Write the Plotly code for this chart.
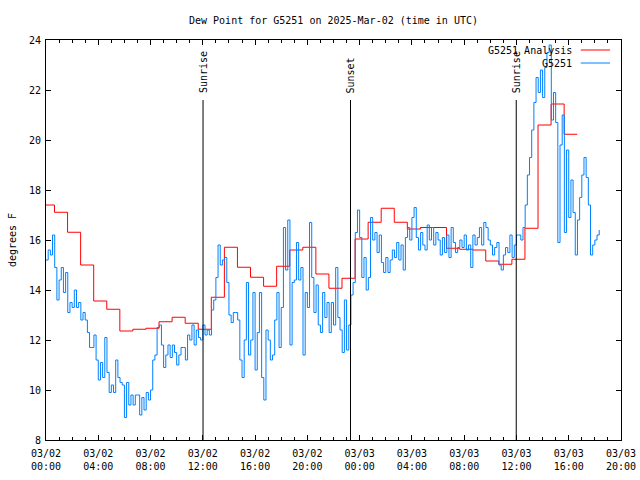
import pandas as pd
import plotly.graph_objects as go

title_text = "Dew Point for G5251 on 2025-Mar-02 (time in UTC)"
y_label = "degrees F"
start = "2025-03-02 00:00"
x_end = "2025-03-03 20:00"
obs_name = "G5251"
ana_name = "G5251 Analysis"

# G5251 observed dew point (F), one value every 10 minutes from start
obs_values = [
    15.2, 15.6, 15.4, 16.2, 14.9, 13.6,
    14.4, 14.9, 13.9, 14.7, 13.1, 13.5,
    13.3, 14.0, 13.3, 13.5, 12.8, 13.1,
    12.8, 12.3, 11.7, 11.7, 12.2, 11.2,
    10.4, 11.1, 10.5, 12.1, 10.7, 9.9,
    10.2, 9.9, 11.2, 10.5, 10.3, 10.2,
    8.9, 10.3, 9.4, 9.8, 9.4, 9.8,
    9.8, 9.0, 9.7, 9.2, 9.9, 9.6,
    10.0, 11.2, 11.4, 12.5, 12.6, 11.8,
    10.9, 11.4, 11.8, 11.3, 11.8, 11.5,
    11.0, 11.4, 11.7, 11.7, 11.2, 12.2,
    12.0, 12.6, 11.8, 12.4, 12.1, 12.0,
    12.6, 12.2, 12.4, 12.2, 13.2, 13.6,
    14.5, 15.8, 15.0, 15.2, 15.3, 14.3,
    13.0, 12.7, 13.1, 13.1, 12.8, 11.2,
    10.5, 12.0, 14.3, 11.4, 12.0, 13.9,
    10.8, 12.3, 13.9, 10.5, 9.6, 12.4,
    12.0, 11.2, 11.4, 12.8, 13.9, 11.7,
    13.3, 16.5, 14.8, 16.8, 11.8, 14.3,
    14.4, 15.9, 14.4, 14.9, 11.4, 13.9,
    13.3, 16.7, 14.5, 13.1, 14.2, 12.6,
    12.3, 13.9, 12.9, 13.5, 12.3, 13.5,
    12.6, 14.9, 12.9, 12.4, 11.5, 13.6,
    11.6, 12.6, 13.8, 14.3, 16.3, 17.2,
    16.1, 14.5, 15.3, 14.0, 14.5, 16.9,
    16.0, 16.3, 15.5, 16.2, 15.1, 14.7,
    15.3, 14.7, 15.2, 15.6, 15.3, 15.9,
    15.2, 15.8, 14.8, 16.1, 16.5, 16.0,
    16.9, 17.3, 16.1, 15.6, 16.3, 15.8,
    15.6, 16.6, 16.0, 16.5, 15.8, 16.3,
    16.0, 15.4, 16.1, 15.5, 16.2, 15.3,
    16.5, 15.9, 15.5, 15.7, 16.0, 15.7,
    16.2, 15.6, 15.8, 14.9, 16.2, 15.8,
    16.1, 16.5, 15.8, 16.7, 16.5, 16.0,
    15.8, 15.4, 15.7, 15.9, 15.0, 14.8,
    15.4, 15.7, 15.5, 16.2, 15.3, 15.8,
    16.2, 16.2, 16.0, 16.5, 17.4, 18.6,
    19.3, 20.4, 21.5, 22.5, 21.9, 22.8,
    21.7, 22.9, 23.5, 23.8, 20.8, 21.9,
    20.7, 15.9, 19.8, 21.0, 16.3, 19.6,
    16.9, 18.4, 17.1, 15.4, 16.8, 17.7,
    18.6, 19.3, 18.5, 17.4, 15.4, 15.8,
    16.0, 16.2, 16.4,
]

# G5251 Analysis (F), hourly values from 00 UTC on 03/02
ana_values = [
    17.4, 17.11, 16.31, 15.0, 13.56, 13.23, 12.36, 12.43, 12.47, 12.73,
    12.91, 12.67, 12.43, 13.71, 15.71, 14.91, 14.51, 14.15, 14.95, 15.6,
    15.71, 14.64, 14.07, 14.47, 16.04, 16.71, 17.27, 16.71, 16.44, 16.5,
    16.5, 15.67, 15.63, 15.6, 15.16, 15.03, 15.23, 16.47, 20.6, 21.44,
    20.23,
]

event_names = ["Sunrise", "Sunset", "Sunrise"]
event_times = ["2025-03-02 12:01", "2025-03-02 23:18", "2025-03-03 11:59"]
event_line_top = 21.6

y_range = [8, 24]
y_dtick = 2

FONT = "DejaVu Sans Mono"
RED = "#ff0000"
BLUE = "#0080ff"

t0 = pd.Timestamp(start)
obs_times = pd.date_range(t0, periods=len(obs_values), freq="10min")

# each analysis value is held from 21 min before its hour to 39 min after
ana_times = [t0] + [t0 + pd.Timedelta(hours=h) - pd.Timedelta(minutes=21)
                    for h in range(1, len(ana_values))]
ana_times.append(t0 + pd.Timedelta(hours=len(ana_values) - 1) + pd.Timedelta(minutes=39))
ana_plot = ana_values + [ana_values[-1]]

fig = go.Figure()
fig.add_trace(go.Scatter(x=ana_times, y=ana_plot, mode="lines", name=ana_name,
                         line=dict(color=RED, width=1, shape="hv")))
fig.add_trace(go.Scatter(x=obs_times, y=obs_values, mode="lines", name=obs_name,
                         line=dict(color=BLUE, width=1, shape="hv")))

for name, t in zip(event_names, event_times):
    fig.add_shape(type="line", xref="x", yref="y", x0=t, x1=t,
                  y0=y_range[0], y1=event_line_top,
                  line=dict(color="black", width=1))
    fig.add_annotation(x=t, y=event_line_top, xref="x", yref="y", text=name,
                       textangle=-90, showarrow=False, xanchor="center",
                       yanchor="bottom", yshift=5,
                       font=dict(family=FONT, size=10, color="black"))

# gnuplot-style key (text, then line sample) in the top-right corner
key_rows = [(ana_name, RED, 0.975), (obs_name, BLUE, 0.9425)]
for label, col, yp in key_rows:
    fig.add_annotation(x=0.918, y=yp, xref="paper", yref="paper", text=label,
                       showarrow=False, xanchor="right", yanchor="middle",
                       font=dict(family=FONT, size=10, color="black"))
    fig.add_shape(type="line", xref="paper", yref="paper", x0=0.930, x1=0.981,
                  y0=yp, y1=yp, line=dict(color=col, width=1))

fig.add_annotation(x=-0.059, y=0.5, xref="paper", yref="paper", text=y_label,
                   textangle=-90, showarrow=False, xanchor="center", yanchor="middle",
                   font=dict(family=FONT, size=10, color="black"))

fig.update_layout(
    template="none",
    width=640, height=480,
    margin=dict(l=46, r=19, t=40, b=40, pad=0),
    plot_bgcolor="white", paper_bgcolor="white",
    showlegend=False,
    font=dict(family=FONT, size=10, color="black"),
    title=dict(text=title_text, x=0.5, xref="paper", y=1 - 20 / 480,
               yref="container", xanchor="center", yanchor="middle",
               font=dict(family=FONT, size=10, color="black")),
)
fig.update_xaxes(
    type="date", range=[start, x_end], automargin=False,
    tick0=start, dtick=4 * 3600 * 1000, tickformat="%m/%d<br>%H:%M",
    ticks="inside", ticklen=5, tickcolor="black", tickwidth=1,
    ticklabelstandoff=4,
    minor=dict(dtick=3600 * 1000, ticks="inside", ticklen=3, tickcolor="black",
               showgrid=False),
    showline=True, linecolor="black", linewidth=1, mirror="ticks",
    showgrid=False, zeroline=False,
    tickfont=dict(family=FONT, size=10, color="black"),
)
fig.update_yaxes(
    range=y_range, dtick=y_dtick, tick0=y_range[0], automargin=False,
    ticks="inside", ticklen=5, tickcolor="black", tickwidth=1,
    ticklabelstandoff=2,
    showline=True, linecolor="black", linewidth=1, mirror="ticks",
    showgrid=False, zeroline=False,
    tickfont=dict(family=FONT, size=10, color="black"),
)

fig.write_html("out.html")
